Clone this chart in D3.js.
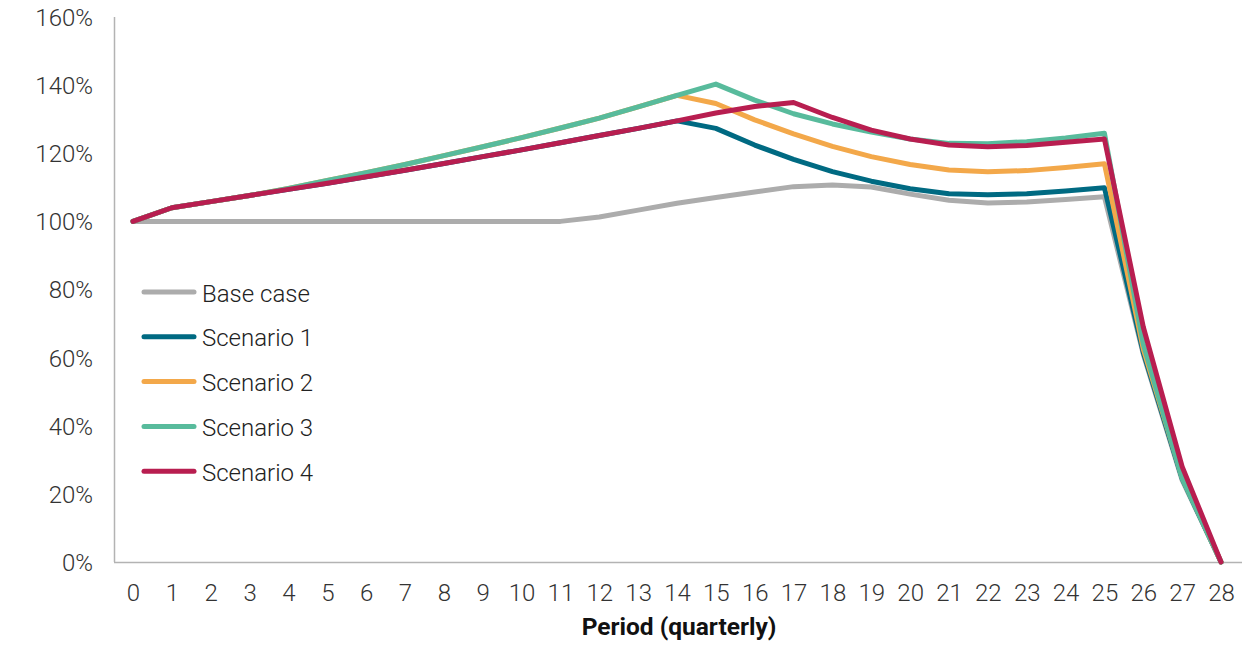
<!DOCTYPE html>
<html>
<head>
<meta charset="utf-8">
<script src="https://cdn.jsdelivr.net/npm/d3@7"></script>
<style>
  html, body { margin: 0; padding: 0; background: #fff; }
  svg { display: block; font-family: Roboto, "Noto Sans", sans-serif; }
</style>
</head>
<body>
<svg id="chart" width="1260" height="649"></svg>
<script>
// Quarterly periods 0..28
const periods = d3.range(0, 29);

// Index values in percent, one entry per period
const baseCase  = [100, 100, 100, 100, 100, 100, 100, 100, 100, 100, 100, 100, 101.3, 103.3, 105.3, 107.0, 108.6, 110.2, 110.7, 110.1, 108.0, 106.2, 105.4, 105.7, 106.4, 107.2, 61, 24, 0];
const scenario1 = [100, 104.0, 105.8, 107.6, 109.4, 111.2, 113.1, 115.0, 117.0, 119.0, 121.0, 123.1, 125.2, 127.3, 129.5, 127.3, 122.4, 118.2, 114.6, 111.8, 109.6, 108.1, 107.8, 108.1, 108.9, 109.9, 61.5, 24.5, 0];
const scenario2 = [100, 104.0, 105.8, 107.6, 109.7, 112.0, 114.3, 116.7, 119.3, 121.9, 124.6, 127.4, 130.3, 133.6, 137.0, 134.6, 129.8, 125.7, 122.0, 119.0, 116.7, 115.1, 114.6, 114.9, 115.8, 116.9, 62.5, 25, 0];
const scenario3 = [100, 104.0, 105.8, 107.6, 109.7, 112.0, 114.3, 116.7, 119.3, 121.9, 124.6, 127.4, 130.3, 133.6, 137.0, 140.3, 135.6, 131.6, 128.6, 126.2, 124.2, 122.9, 122.8, 123.4, 124.5, 125.9, 64, 24.5, 0];
const scenario4 = [100, 104.0, 105.8, 107.6, 109.4, 111.2, 113.1, 115.0, 117.0, 119.0, 121.0, 123.1, 125.2, 127.3, 129.5, 131.8, 133.7, 134.9, 130.5, 126.8, 124.2, 122.4, 121.9, 122.3, 123.2, 124.2, 69, 28, 0];

const seriesNames = ["Base case", "Scenario 1", "Scenario 2", "Scenario 3", "Scenario 4"];
const seriesValues = [baseCase, scenario1, scenario2, scenario3, scenario4];
const seriesColors = ["#acacac", "#006a82", "#f3a84a", "#58bb9c", "#b81e50"];

const yTicks = [0, 20, 40, 60, 80, 100, 120, 140, 160];

const svg = d3.select("#chart");

const x = d3.scaleLinear().domain([0, 28]).range([133, 1221]);
const y = d3.scaleLinear().domain([0, 160]).range([562, 17]);

// Y axis: labels only, with a plain vertical rule
const yAxis = d3.axisLeft(y).tickValues(yTicks).tickFormat(d => d + "%").tickSize(0).tickPadding(0);
const gy = svg.append("g").attr("transform", "translate(93,0)").call(yAxis);
gy.select(".domain").remove();
gy.selectAll("text")
  .attr("font-size", 24).attr("fill", "#333")
  .attr("font-family", "Roboto, sans-serif").attr("font-weight", 300)
  .attr("dy", "0.35em");

svg.append("line")
  .attr("x1", 114.5).attr("x2", 114.5).attr("y1", 17).attr("y2", y(0))
  .attr("stroke", "#b3b3b3").attr("stroke-width", 1.5);

// X axis: labels only, with a plain horizontal rule
const xAxis = d3.axisBottom(x).tickValues(periods).tickFormat(d3.format("d")).tickSize(0).tickPadding(0);
const gx = svg.append("g").attr("transform", "translate(0,601)").call(xAxis);
gx.select(".domain").remove();
gx.selectAll("text")
  .attr("font-size", 24).attr("fill", "#333")
  .attr("font-family", "Roboto, sans-serif").attr("font-weight", 300)
  .attr("y", 0).attr("dy", 0);

svg.append("line")
  .attr("x1", 114).attr("x2", 1242).attr("y1", y(0) + 0.5).attr("y2", y(0) + 0.5)
  .attr("stroke", "#b3b3b3").attr("stroke-width", 1.5);

svg.append("text")
  .attr("x", 679).attr("y", 635)
  .attr("text-anchor", "middle")
  .attr("font-size", 24.5).attr("font-weight", 700).attr("fill", "#111")
  .text("Period (quarterly)");

// Series lines
const line = d3.line().x((d, i) => x(periods[i])).y(d => y(d));

svg.append("g").selectAll("path")
  .data(seriesValues)
  .join("path")
  .attr("d", d => line(d))
  .attr("fill", "none")
  .attr("stroke", (d, i) => seriesColors[i])
  .attr("stroke-width", 5)
  .attr("stroke-linejoin", "round")
  .attr("stroke-linecap", "round");

// Legend
const legend = svg.append("g").attr("transform", "translate(144,292)");
const items = legend.selectAll("g")
  .data(seriesNames)
  .join("g")
  .attr("transform", (d, i) => `translate(0,${i * 44.8})`);

items.append("line")
  .attr("x1", 0).attr("x2", 50).attr("y1", 0).attr("y2", 0)
  .attr("stroke", (d, i) => seriesColors[i])
  .attr("stroke-width", 5)
  .attr("stroke-linecap", "round");

items.append("text")
  .attr("x", 58).attr("y", 0).attr("dy", "0.4em")
  .attr("font-size", 24).attr("font-weight", 300).attr("fill", "#222")
  .text(d => d);
</script>
</body>
</html>
